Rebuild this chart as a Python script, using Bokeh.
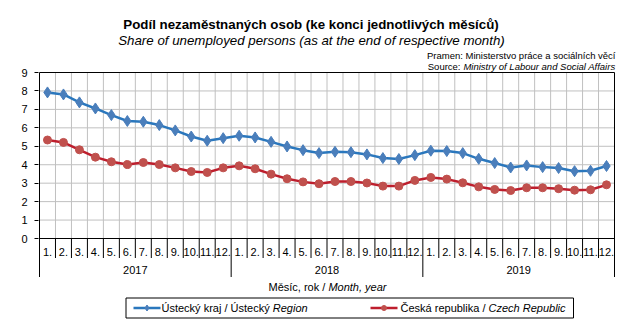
import numpy as np
from bokeh.plotting import figure
from bokeh.models import Range1d, FixedTicker, Label
from bokeh.embed import file_html
from bokeh.resources import INLINE
from bokeh.core.properties import value

# ---------------- data ----------------
years = ["2017", "2018", "2019"]
months = ["1.", "2.", "3.", "4.", "5.", "6.", "7.", "8.", "9.", "10.", "11.", "12."]
y_ticks = [0, 1, 2, 3, 4, 5, 6, 7, 8, 9]
usti = [7.92, 7.81, 7.38, 7.05, 6.69, 6.37, 6.33, 6.15, 5.86, 5.53, 5.30, 5.44,
        5.57, 5.48, 5.24, 4.99, 4.79, 4.63, 4.70, 4.68, 4.56, 4.36, 4.31, 4.52,
        4.76, 4.74, 4.63, 4.32, 4.09, 3.85, 3.96, 3.87, 3.82, 3.65, 3.67, 3.93]
cz = [5.34, 5.21, 4.81, 4.41, 4.16, 4.01, 4.12, 4.01, 3.83, 3.63, 3.58, 3.83,
      3.94, 3.78, 3.49, 3.24, 3.07, 2.97, 3.09, 3.09, 3.01, 2.84, 2.84, 3.15,
      3.31, 3.22, 3.02, 2.80, 2.66, 2.60, 2.75, 2.75, 2.70, 2.62, 2.64, 2.91]

title = "Podíl nezaměstnaných osob (ke konci jednotlivých měsíců)"
subtitle = "Share of unemployed persons (as at the end of respective month)"
source_cz = "Pramen: Ministerstvo práce a sociálních věcí"
source_en_a = "Source:"
source_en_b = "Ministry of Labour and Social Affairs"
xlabel_a = "Měsíc, rok /"
xlabel_b = "Month, year"
leg1_a = "Ústecký kraj / Ústecký"
leg1_b = "Region"
leg2_a = "Česká republika /"
leg2_b = "Czech Republic"

# ---------------- layout helpers ----------------
W, H = 628, 327
PX0, PY0, PY9 = 39.0, 238.0, 72.0       # pixel of x=0, y=0, y=9
n = len(months) * len(years)
u = 575.0 / n                           # px per category
v = (PY0 - PY9) / 9.0                   # px per y unit
FL = 38                                 # frame left border


def X(px):
    return (px - PX0) / u


def Y(py):
    return (PY0 - py) / v


FONT = value("Liberation Sans")
BLUE_L, BLUE_M = "#2A77BD", "#4A7EBB"
RED_L, RED_M = "#BE1E2D", "#C0504D"

p = figure(width=W, height=H, output_backend="svg", toolbar_location=None,
           x_range=Range1d(X(FL), X(W)), y_range=Range1d(Y(H), Y(0)),
           x_axis_location=None, min_border_left=FL, min_border_right=0,
           min_border_top=0, min_border_bottom=0)
p.outline_line_color = None
p.xgrid.visible = False
p.ygrid.visible = False
p.background_fill_color = "white"
p.border_fill_color = "white"

ax = p.yaxis[0]
ax.ticker = FixedTicker(ticks=y_ticks)
ax.axis_line_color = None
ax.major_tick_out = 4
ax.major_tick_in = 0
ax.minor_tick_line_color = None
ax.major_tick_line_color = "black"
ax.major_label_standoff = 7
ax.major_label_text_font = "Liberation Sans"
ax.major_label_text_font_size = "11px"
ax.major_label_text_color = "black"

# grid
gx = list(range(1, n))
p.segment(x0=gx, y0=[0] * len(gx), x1=gx, y1=[9] * len(gx), line_color="#C0C0C0", line_width=1)
gy = y_ticks[1:-1]
p.segment(x0=[0] * len(gy), y0=gy, x1=[n] * len(gy), y1=gy, line_color="#C0C0C0", line_width=1)

# frame & category separators
ms = [k for k in range(1, n) if k % 12 != 0]
p.segment(x0=ms, y0=[0] * len(ms), x1=ms, y1=[Y(257.5)] * len(ms), line_color="black", line_width=1)
ys = [k for k in range(12, n, 12)]
p.segment(x0=ys, y0=[0] * len(ys), x1=ys, y1=[Y(276.5)] * len(ys), line_color="black", line_width=1)
p.segment(x0=[0, n], y0=[9, 9], x1=[0, n], y1=[Y(276.5), Y(276.5)], line_color="black", line_width=1)
p.segment(x0=[0, 0], y0=[0, 9], x1=[n, n], y1=[0, 9], line_color="black", line_width=1)

# series
xs = [i + 0.5 for i in range(n)]
p.line(xs, usti, line_color=BLUE_L, line_width=2.5)
p.scatter(xs, usti, marker="diamond", size=11, fill_color=BLUE_M, line_color=BLUE_M)
p.line(xs, cz, line_color=RED_L, line_width=2.5)
p.scatter(xs, cz, marker="circle", size=8, fill_color=RED_M, line_color=RED_M)

# category labels
p.text(x=xs, y=[Y(251)] * n, text=months * len(years), text_font=FONT, text_font_size="11px",
       text_align="center", text_baseline="middle", text_color="black")
p.text(x=[12 * i + 6 for i in range(len(years))], y=[Y(269.5)] * len(years), text=years,
       text_font=FONT, text_font_size="11px", text_align="center", text_baseline="middle",
       text_color="black")

# axis title (mixed style)
p.text(x=[X(268)], y=[Y(286)], text=[xlabel_a], text_font=FONT, text_font_size="11px",
       text_align="left", text_baseline="middle", text_color="black")
p.text(x=[X(327.9)], y=[Y(286)], text=[xlabel_b], text_font=FONT, text_font_size="11px",
       text_font_style="italic", text_align="left", text_baseline="middle", text_color="black")

# titles
p.text(x=[X(310.5)], y=[Y(24)], text=[title], text_font=FONT, text_font_size="13.3px",
       text_font_style="bold", text_align="center", text_baseline="middle", text_color="black")
p.text(x=[X(311)], y=[Y(40)], text=[subtitle], text_font=FONT, text_font_size="13.3px",
       text_font_style="italic", text_align="center", text_baseline="middle", text_color="black")
p.text(x=[X(615)], y=[Y(55)], text=[source_cz], text_font=FONT, text_font_size="9.5px",
       text_align="right", text_baseline="middle", text_color="black")
p.text(x=[X(615)], y=[Y(65.5)], text=[source_en_b], text_font=FONT, text_font_size="9.5px",
       text_font_style="italic", text_align="right", text_baseline="middle", text_color="black")
p.text(x=[X(460)], y=[Y(65.5)], text=[source_en_a], text_font=FONT, text_font_size="9.5px",
       text_align="right", text_baseline="middle", text_color="black")

# legend
ly = Y(307.5)
p.quad(left=[X(125.5)], right=[X(573)], top=[Y(297.5)], bottom=[Y(317.5)],
       fill_color=None, line_color="black", line_width=1)
p.line([X(133), X(160)], [ly, ly], line_color=BLUE_L, line_width=2.5)
p.scatter([X(146.5)], [ly], marker="diamond", size=6, fill_color=BLUE_M, line_color=BLUE_M)
p.line([X(370), X(397)], [ly, ly], line_color=RED_L, line_width=2.5)
p.scatter([X(383.5)], [ly], marker="circle", size=5, fill_color=RED_M, line_color=RED_M)
p.text(x=[X(161)], y=[ly], text=[leg1_a], text_font=FONT, text_font_size="11px",
       text_align="left", text_baseline="middle", text_color="black")
p.text(x=[X(272.3)], y=[ly], text=[leg1_b], text_font=FONT, text_font_size="11px",
       text_font_style="italic", text_align="left", text_baseline="middle", text_color="black")
p.text(x=[X(400)], y=[ly], text=[leg2_a], text_font=FONT, text_font_size="11px",
       text_align="left", text_baseline="middle", text_color="black")
p.text(x=[X(488)], y=[ly], text=[leg2_b], text_font=FONT, text_font_size="11px",
       text_font_style="italic", text_align="left", text_baseline="middle", text_color="black")

# y axis unit label
p.add_layout(Label(x=X(10), y=Y(155), text="%", angle=np.pi / 2, text_align="center",
                   text_baseline="middle", text_font="Liberation Sans", text_font_size="11px",
                   text_color="black"))

open("out.html", "w").write(file_html(p, INLINE))
